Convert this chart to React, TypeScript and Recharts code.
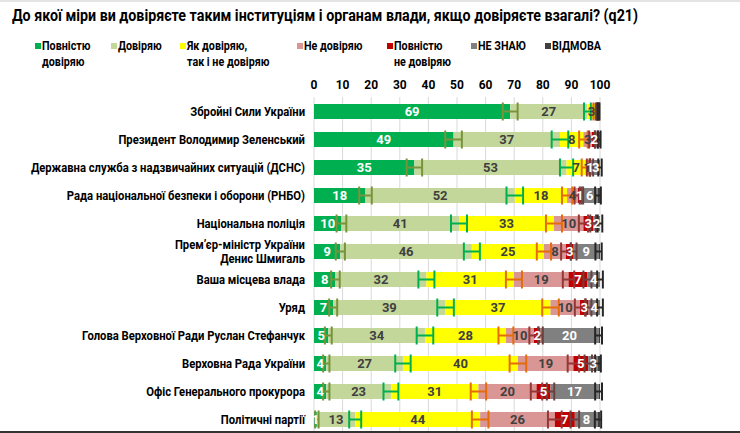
import { BarChart, Bar, XAxis, YAxis, CartesianGrid, ErrorBar, LabelList } from 'recharts';

const title = 'До якої міри ви довіряєте таким інституціям і органам влади, якщо довіряєте взагалі? (q21)';

const categories = [
  'Збройні Сили України',
  'Президент Володимир Зеленський',
  'Державна служба з надзвичайних ситуацій (ДСНС)',
  'Рада національної безпеки і оборони (РНБО)',
  'Національна поліція',
  'Прем’єр-міністр України\nДенис Шмигаль',
  'Ваша місцева влада',
  'Уряд',
  'Голова Верховної Ради Руслан Стефанчук',
  'Верховна Рада України',
  'Офіс Генерального прокурора',
  'Політичні партії',
];

const fullTrust = [68.6, 48.8, 35.1, 18, 9.6, 9.2, 7.5, 6.7, 5, 4.3, 4.3, 1];
const trust = [27, 37.2, 53.2, 52.2, 41.1, 46, 31.8, 39.3, 33.8, 26.8, 22.6, 13.4];
const neutral = [2.9, 8.2, 6.7, 18.3, 33.2, 25.2, 30.6, 36.7, 28.3, 40.2, 30.6, 43.7];
const distrust = [0.3, 3, 1, 3.8, 10.3, 7.7, 19.1, 10.3, 9.8, 19.4, 20.3, 26.1];
const fullDistrust = [0.5, 1.6, 1, 1.2, 3.4, 2.7, 6.6, 3, 2.3, 5.2, 4.9, 7];
const dontKnow = [0.2, 0.9, 3, 5.8, 2.4, 8.7, 4.4, 4, 20.3, 3.4, 16.8, 8.1];
const refused = [0.5, 0.3, 0, 0.7, 0, 0.5, 0, 0, 0.5, 0.7, 0.5, 0.7];

// half-widths of the confidence intervals
const errFullTrust = [2.6, 2.9, 2.7, 2.2, 1.7, 1.6, 1.5, 1.4, 1.2, 1.1, 1.1, 0.6];
const errTrust = [1.2, 2.9, 2.3, 2.9, 2.8, 2.8, 2.8, 2.9, 2.9, 2.7, 2.6, 2.1];
const errNeutral = [0.8, 1.5, 1.4, 1.8, 2.8, 2.5, 2.8, 2.9, 2.6, 2.9, 2.7, 2.9];
const errDistrust = [0.3, 1.0, 0.6, 1.2, 1.6, 1.7, 2.0, 1.8, 1.6, 2.0, 2.0, 2.4];
const errFullDistrust = [0.4, 0.5, 0.6, 0.6, 1.0, 1.0, 1.4, 1.0, 0.8, 1.3, 1.3, 1.5];
const errDontKnow = [0.3, 0.5, 0.6, 1.0, 0.8, 1.1, 1.0, 1.0, 1.2, 1.0, 1.2, 1.1];

const xTicks = [0, 10, 20, 30, 40, 50, 60, 70, 80, 90, 100];

const legendItems = [
  { label: 'Повністю\nдовіряю', color: '#00B050', x: 42 },
  { label: 'Довіряю', color: '#C4D79B', x: 118 },
  { label: 'Як довіряю,\nтак і не довіряю', color: '#FFFF00', x: 187 },
  { label: 'Не довіряю', color: '#DA9694', x: 304 },
  { label: 'Повністю\nне довіряю', color: '#C00000', x: 394 },
  { label: 'НЕ ЗНАЮ', color: '#808080', x: 478 },
  { label: 'ВІДМОВА', color: '#404040', x: 552 },
];

const FONT = "Roboto, 'Noto Sans', sans-serif";
const TICK_SQUEEZE = 0.9;
const LEGEND_SQUEEZE = 0.86;

const rows = categories.map((name, i) => ({
  name,
  full: fullTrust[i],
  trust: trust[i],
  neutral: neutral[i],
  distrust: distrust[i],
  fullNot: fullDistrust[i],
  dk: dontKnow[i],
  refused: refused[i],
  eFull: errFullTrust[i],
  eTrust: errTrust[i],
  eNeutral: errNeutral[i],
  eDistrust: errDistrust[i],
  eFullNot: errFullDistrust[i],
  eDk: errDontKnow[i],
}));

const series = [
  { key: 'full', color: '#00B050', text: '#FFFFFF', err: 'eFull', errColor: '#77933C' },
  { key: 'trust', color: '#C4D79B', text: '#404040', err: 'eTrust', errColor: '#00B050' },
  { key: 'neutral', color: '#FFFF00', text: '#404040', err: 'eNeutral', errColor: '#E46C0A' },
  { key: 'distrust', color: '#DA9694', text: '#404040', err: 'eDistrust', errColor: '#953735' },
  { key: 'fullNot', color: '#C00000', text: '#FFFFFF', err: 'eFullNot', errColor: '#6B4040' },
  { key: 'dk', color: '#808080', text: '#FFFFFF', err: 'eDk', errColor: '#262626' },
  { key: 'refused', color: '#404040', text: '#FFFFFF', err: null, errColor: '' },
];

const makeLabel = (fill: string) => (props: any) => {
  const { x, y, width, height, value } = props;
  if (value == null || value < 1) return null;
  return (
    <text
      x={x + width / 2}
      y={y + height / 2}
      dy={4.5}
      textAnchor="middle"
      fill={fill}
      fontSize={13}
      fontWeight="bold"
      fontFamily={FONT}
    >
      {Math.round(value)}
    </text>
  );
};

const CategoryTick = (props: any) => {
  const { x, y, payload } = props;
  const lines = String(payload.value).split('\n');
  const start = -((lines.length - 1) * 14) / 2;
  return (
    <g transform={`translate(${x - 1},${y}) scale(${TICK_SQUEEZE},1)`}>
      <text x={0} y={0} textAnchor="end" fill="#000" fontSize={12.5} fontWeight="bold" fontFamily={FONT}>
        {lines.map((l, i) => (
          <tspan key={i} x={0} dy={i === 0 ? start + 4.5 : 14}>
            {l}
          </tspan>
        ))}
      </text>
    </g>
  );
};

export default function App() {
  return (
    <div style={{ position: 'absolute', left: 0, top: 0, width: 740, height: 433, background: '#fff', overflow: 'hidden' }}>
      <div style={{ position: 'absolute', left: 0, top: 0, width: 740, height: 2, background: '#E4E4E4' }} />
      <BarChart
        width={740}
        height={433}
        data={rows}
        layout="vertical"
        barSize={15}
        margin={{ top: 77, right: 140, bottom: 0, left: 14 }}
        style={{ position: 'absolute', left: 0, top: 0 }}
      >
        <CartesianGrid horizontal={false} stroke="#D9D9D9" />
        <XAxis
          type="number"
          orientation="top"
          domain={[0, 100]}
          ticks={xTicks}
          allowDataOverflow
          axisLine={false}
          tickLine={false}
          height={20}
          tick={{ fill: '#000', fontSize: 12, fontWeight: 'bold', fontFamily: FONT }}
        />
        <YAxis type="category" dataKey="name" width={300} axisLine={false} tickLine={false} tick={<CategoryTick />} interval={0} />
        {series.map((s) => (
          <Bar key={s.key} dataKey={s.key} stackId="a" fill={s.color} isAnimationActive={false}>
            <LabelList dataKey={s.key} content={makeLabel(s.text)} />
            {s.err && <ErrorBar dataKey={s.err} direction="x" stroke={s.errColor} strokeWidth={2} width={9} />}
          </Bar>
        ))}
      </BarChart>
      <svg width={740} height={75} style={{ position: 'absolute', left: 0, top: 0 }}>
        <text x={12} y={21} fontSize={17} fontWeight="bold" fontFamily={FONT} fill="#000" textLength={626} lengthAdjust="spacingAndGlyphs">
          {title}
        </text>
        {legendItems.map((item) => (
          <g key={item.label}>
            <rect x={item.x - 7} y={43} width={6} height={6} fill={item.color} />
            <g transform={`translate(${item.x},0) scale(${LEGEND_SQUEEZE},1)`}>
              <text x={0} y={50} fontSize={12.5} fontWeight="bold" fontFamily={FONT} fill="#000">
                {item.label.split('\n').map((l, i) => (
                  <tspan key={i} x={0} dy={i === 0 ? 0 : 16}>
                    {l}
                  </tspan>
                ))}
              </text>
            </g>
          </g>
        ))}
      </svg>
      <div style={{ position: 'absolute', left: 0, top: 431, width: 740, height: 2, background: '#333' }} />
    </div>
  );
}
